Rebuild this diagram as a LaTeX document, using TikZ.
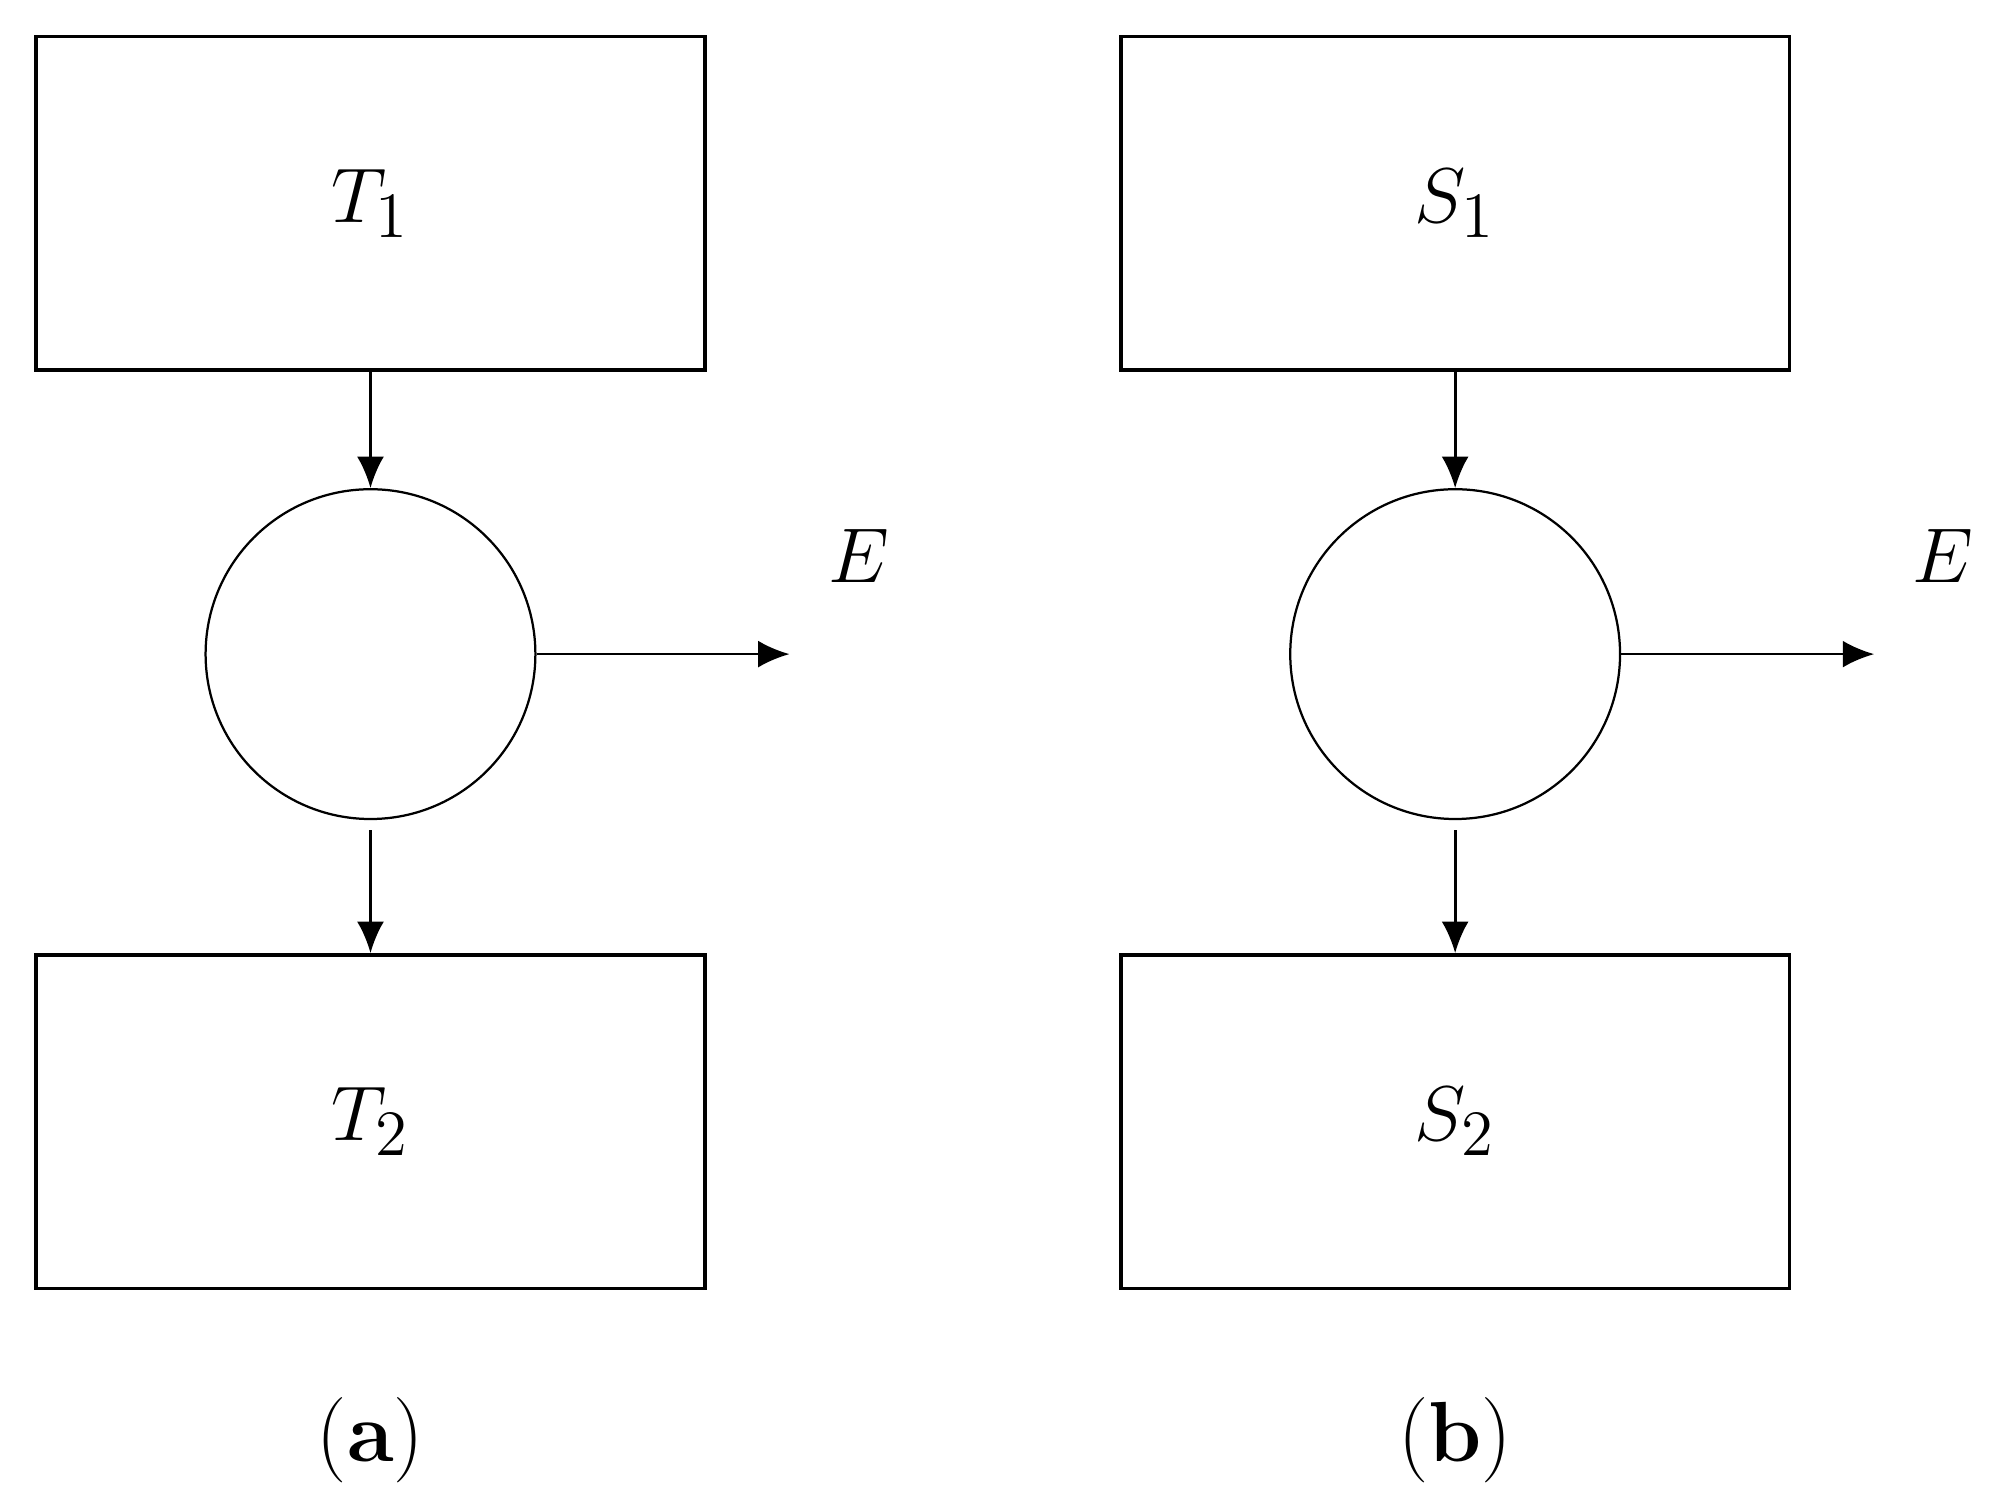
\documentclass[tikz,border=0pt]{standalone}
\usetikzlibrary{arrows.meta}
\begin{document}
\begin{tikzpicture}[x=0.01cm,y=-0.01cm,
  box/.style={draw,line width=0.8pt,minimum width=5.23cm,minimum height=2.61cm,font=\fontsize{19}{23}\selectfont},
  circ/.style={draw,line width=0.5pt,circle,minimum size=2.58cm,inner sep=0},
  arr/.style={line width=0.6pt,-{Latex[length=7pt,width=6pt]}},
  lab/.style={font=\fontsize{19}{23}\selectfont}]
\useasboundingbox (0,0) rectangle (1560,1173);
\foreach \n/\cx/\A/\B/\sub in {a/290/T/T/a, b/1139/S/S/b}{
  \node[box] (\n1) at (\cx,159) {$\A_1$};
  \node[circ] (\n c) at (\cx,512) {};
  \node[box] (\n2) at (\cx,878) {$\B_2$};
  \coordinate (\n e) at (\cx+328,512);
  \draw[arr] (\n1.south) -- (\n c.north);
  \draw[arr] ([yshift=-0.08cm]\n c.south) -- (\n2.north);
  \draw[arr] (\n c.east) -- (\n e);
  \node[lab] (\n E) at (\cx+382,435) {$E$};
  \node[lab] (\n cap) at (\cx,1127) {(\textbf{\sub})};
}
\end{tikzpicture}
\end{document}
